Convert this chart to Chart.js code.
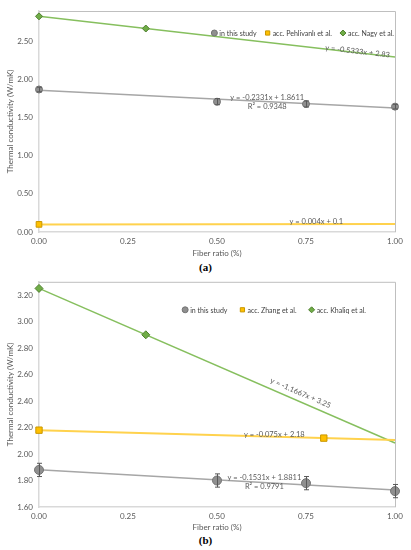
<!DOCTYPE html>
<html lang="en">
<head>
<meta charset="UTF-8">
<title>Thermal conductivity vs fiber ratio</title>
<script src="https://cdn.jsdelivr.net/npm/chart.js"></script>
<style>
    * { margin: 0; padding: 0; box-sizing: border-box; }
    body { width: 411px; height: 550px; background: #fff; position: relative; overflow: hidden; }
    .panel { position: absolute; left: 0; width: 411px; }
    #panelA { top: 0; }
    #panelB { top: 271px; }
    .caption {
        position: absolute; left: 0; width: 411px; text-align: center;
        font: bold 11px 'Liberation Serif', serif; line-height: 12px; color: #000;
    }
</style>
</head>
<body>
<div class="panel" id="panelA"><canvas id="chartA" width="411" height="259"></canvas></div>
<div class="caption" style="top:261px">(a)</div>
<div class="panel" id="panelB"><canvas id="chartB" width="411" height="262"></canvas></div>
<div class="caption" style="top:534px">(b)</div>

<script>
// ---- data ----
const studyX = [0, 0.5, 0.75, 1];
const trendX = [0, 1];

// (a)
const studyA = [1.87, 1.71, 1.68, 1.645];
const studyErrA = [0.03, 0.04, 0.04, 0.03];
const pehlivanliX = [0];
const pehlivanliA = [0.1];
const nagyX = [0, 0.3];
const nagyA = [2.83, 2.67];
const studyTrendA = [1.861, 1.628];
const pehlivanliTrendA = [0.1, 0.104];
const nagyTrendA = [2.83, 2.297];

// (b)
const studyB = [1.88, 1.80, 1.78, 1.72];
const studyErrB = [0.05, 0.05, 0.05, 0.05];
const zhangX = [0, 0.8];
const zhangB = [2.18, 2.12];
const khaliqX = [0, 0.3];
const khaliqB = [3.25, 2.90];
const studyTrendB = [1.881, 1.728];
const zhangTrendB = [2.18, 2.105];
const khaliqTrendB = [3.25, 2.083];

const FONT = "Lato, 'Open Sans', sans-serif";
const GREY_TXT = '#595959';
const C_STUDY = { fill: '#8f8f8f', edge: '#737373', line: '#a6a6a6' };
const C_YELLOW = { fill: '#ffc000', edge: '#c99700', line: '#ffd24d' };
const C_GREEN = { fill: '#70ad47', edge: '#4f7f2f', line: '#86bf5e' };

function toPts(xs, ys) {
    return xs.map((x, i) => ({ x: x, y: ys[i] }));
}

function markers(label, xs, ys, style, c, radius, errs) {
    return {
        label: label, data: toPts(xs, ys), showLine: false, clip: false,
        pointStyle: style, pointRadius: radius, borderWidth: 1,
        backgroundColor: c.fill, borderColor: c.edge,
        inLegend: true, errorBars: errs
    };
}

function trend(ys, c, width) {
    return {
        data: toPts(trendX, ys), showLine: true, clip: false, pointRadius: 0,
        borderColor: c.line, borderWidth: width, fill: false
    };
}

// top/right frame of the plot area
const frame = {
    id: 'frame',
    beforeDatasetsDraw(chart) {
        const { ctx, chartArea: a } = chart;
        ctx.save();
        ctx.strokeStyle = '#bfbfbf';
        ctx.lineWidth = 1;
        ctx.beginPath();
        ctx.moveTo(a.left, a.top + 0.5);
        ctx.lineTo(a.right + 0.5, a.top + 0.5);
        ctx.lineTo(a.right + 0.5, a.bottom);
        ctx.stroke();
        ctx.restore();
    }
};

// vertical error bars for datasets carrying errorBars
const errorBars = {
    id: 'errorBars',
    afterDatasetsDraw(chart) {
        const { ctx, scales: { x, y } } = chart;
        ctx.save();
        ctx.strokeStyle = '#595959';
        ctx.lineWidth = 1;
        chart.data.datasets.forEach(ds => {
            if (!ds.errorBars) return;
            ds.data.forEach((p, i) => {
                const px = Math.round(x.getPixelForValue(p.x)) + 0.5;
                const y1 = y.getPixelForValue(p.y + ds.errorBars[i]);
                const y2 = y.getPixelForValue(p.y - ds.errorBars[i]);
                ctx.beginPath();
                ctx.moveTo(px, y1); ctx.lineTo(px, y2);
                ctx.moveTo(px - 2.5, y1); ctx.lineTo(px + 2.5, y1);
                ctx.moveTo(px - 2.5, y2); ctx.lineTo(px + 2.5, y2);
                ctx.stroke();
            });
        });
        ctx.restore();
    }
};

// trendline equations
const trendLabels = {
    id: 'trendLabels',
    afterDatasetsDraw(chart, args, opts) {
        const { ctx, scales: { x, y } } = chart;
        (opts.items || []).forEach(it => {
            let angle = 0;
            if (it.follow !== undefined) {
                const pts = chart.getDatasetMeta(it.follow).data;
                angle = Math.atan2(pts[1].y - pts[0].y, pts[1].x - pts[0].x);
            }
            ctx.save();
            ctx.translate(x.getPixelForValue(it.x), y.getPixelForValue(it.y));
            ctx.rotate(angle);
            ctx.font = '7.5px ' + FONT;
            ctx.fillStyle = GREY_TXT;
            ctx.textAlign = 'center';
            ctx.textBaseline = 'middle';
            const n = it.lines.length;
            it.lines.forEach((t, k) => ctx.fillText(t, 0, (k - (n - 1) / 2) * 9));
            ctx.restore();
        });
    }
};

// legend drawn inside the plot area, anchored to its right edge
const insideLegend = {
    id: 'insideLegend',
    afterDraw(chart, args, opts) {
        const { ctx, chartArea: a } = chart;
        const items = chart.data.datasets.filter(ds => ds.inLegend);
        ctx.save();
        ctx.font = '7px ' + FONT;
        ctx.textBaseline = 'middle';
        ctx.lineWidth = 1;
        let total = 0;
        items.forEach((ds, i) => {
            total += 3 + 5 + ctx.measureText(ds.label).width + (i ? opts.gap : 0);
        });
        let cx = a.right - opts.right - total + 3;
        const cy = a.top + opts.top;
        items.forEach(ds => {
            ctx.fillStyle = ds.backgroundColor;
            ctx.strokeStyle = ds.borderColor;
            Chart.helpers.drawPoint(ctx, { pointStyle: ds.pointStyle, radius: 3, borderWidth: 1, rotation: 0 }, cx, cy);
            ctx.fillStyle = '#404040';
            ctx.fillText(ds.label, cx + 5, cy + 0.5);
            cx += 5 + ctx.measureText(ds.label).width + opts.gap + 3;
        });
        ctx.restore();
    }
};

function makeChart(id, o) {
    return new Chart(document.getElementById(id), {
        type: 'scatter',
        data: { datasets: o.datasets },
        plugins: [frame, errorBars, trendLabels, insideLegend],
        options: {
            responsive: false,
            animation: false,
            events: [],
            layout: { padding: { top: o.padTop, right: 16, left: 0, bottom: 0 } },
            plugins: {
                legend: { display: false },
                tooltip: { enabled: false },
                trendLabels: { items: o.labels },
                insideLegend: o.legend
            },
            scales: {
                x: {
                    type: 'linear', min: 0, max: 1,
                    grid: { display: false, drawTicks: false },
                    border: { color: '#d9d9d9', width: 1.5 },
                    ticks: {
                        stepSize: 0.25, padding: 5, color: GREY_TXT,
                        font: { size: 8, family: FONT },
                        callback: v => v.toFixed(2)
                    },
                    title: {
                        display: true, text: 'Fiber ratio (%)', color: GREY_TXT,
                        font: { size: 8, family: FONT }, padding: { top: 0, bottom: 1 }
                    },
                    afterFit: s => { s.height = o.xHeight; }
                },
                y: {
                    min: o.yMin, max: o.yMax,
                    grid: { display: false, drawTicks: false },
                    border: { color: '#d9d9d9', width: 1.5 },
                    ticks: {
                        stepSize: o.yStep, includeBounds: false, padding: 6, color: GREY_TXT,
                        font: { size: 8, family: FONT },
                        callback: v => v.toFixed(2)
                    },
                    title: {
                        display: true, text: 'Thermal conductivity (W/mK)', color: GREY_TXT,
                        font: { size: 8, family: FONT }, padding: { top: 6, bottom: 0 }
                    },
                    afterFit: s => { s.width = 39; }
                }
            }
        }
    });
}

makeChart('chartA', {
    padTop: 11, xHeight: 27, yMin: 0, yMax: 2.9, yStep: 0.5,
    datasets: [
        markers('in this study', studyX, studyA, 'circle', C_STUDY, 3.5, studyErrA),
        markers('acc. Pehlivanlı et al.', pehlivanliX, pehlivanliA, 'rect', C_YELLOW, 4),
        markers('acc. Nagy et al.', nagyX, nagyA, 'rectRot', C_GREEN, 3.5),
        trend(studyTrendA, C_STUDY, 1.5),
        trend(pehlivanliTrendA, C_YELLOW, 2),
        trend(nagyTrendA, C_GREEN, 1.5)
    ],
    labels: [
        { lines: ['y = -0.5333x + 2.83'], x: 0.895, y: 2.37, follow: 5 },
        { lines: ['y = -0.2331x + 1.8611', 'R² = 0.9348'], x: 0.641, y: 1.71 },
        { lines: ['y = 0.004x + 0.1'], x: 0.779, y: 0.135 }
    ],
    legend: { right: 1, top: 22, gap: 8 }
});

makeChart('chartB', {
    padTop: 10, xHeight: 26, yMin: 1.6, yMax: 3.3, yStep: 0.2,
    datasets: [
        markers('in this study', studyX, studyB, 'circle', C_STUDY, 4.5, studyErrB),
        markers('acc. Zhang et al.', zhangX, zhangB, 'rect', C_YELLOW, 4.5),
        markers('acc. Khaliq et al.', khaliqX, khaliqB, 'rectRot', C_GREEN, 4),
        trend(studyTrendB, C_STUDY, 1.5),
        trend(zhangTrendB, C_YELLOW, 2),
        trend(khaliqTrendB, C_GREEN, 1.5)
    ],
    labels: [
        { lines: ['y = -1.1667x + 3.25'], x: 0.735, y: 2.46, follow: 5 },
        { lines: ['y = -0.075x + 2.18'], x: 0.661, y: 2.148 },
        { lines: ['y = -0.1531x + 1.8811', 'R² = 0.9791'], x: 0.633, y: 1.788 }
    ],
    legend: { right: 29, top: 28, gap: 12 }
});
</script>
</body>
</html>
